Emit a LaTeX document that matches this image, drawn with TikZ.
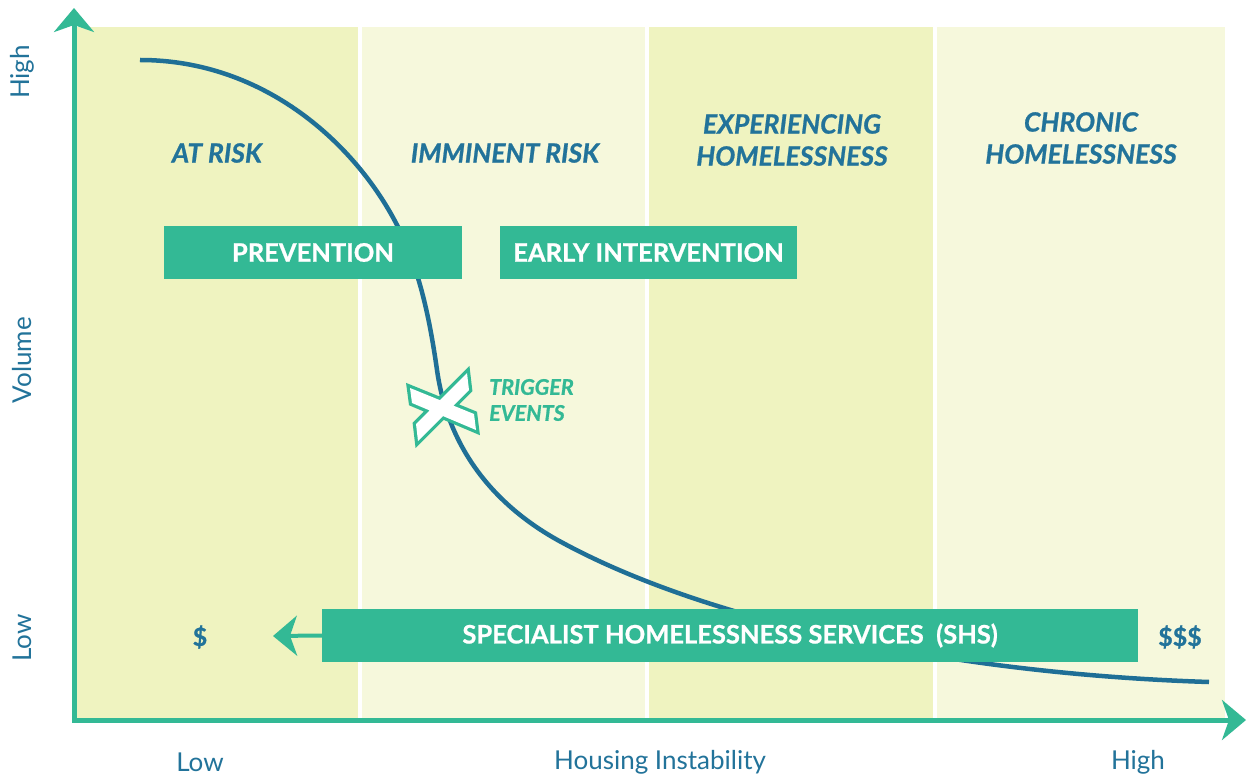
\documentclass[tikz,border=0pt]{standalone}
\usepackage{fontspec}
\setmainfont{Lato}[BoldFeatures={FakeBold=0.8},BoldItalicFeatures={FakeBold=0.8}]
\usetikzlibrary{arrows.meta}
\definecolor{bandA}{HTML}{EFF3C0}
\definecolor{bandB}{HTML}{F6F8DC}
\definecolor{grn}{HTML}{33B995}
\definecolor{blu}{HTML}{22739A}
\definecolor{crv}{HTML}{1F6F96}
\tikzset{
  bigtip/.style={-{Stealth[length=24pt,width=40pt,inset=7pt]}},
  axisline/.style={grn, line width=5pt},
  title/.style={text=blu, font=\fontsize{26.5}{32}\selectfont\bfseries\itshape, align=center, inner sep=0pt},
  boxnode/.style={fill=grn, text=white, font=\fontsize{25.5}{28}\selectfont\bfseries, minimum height=53pt, inner sep=0pt},
  axislbl/.style={text=blu, font=\fontsize{26}{28}\selectfont, inner sep=0pt},
  money/.style={text=blu, font=\fontsize{25}{28}\selectfont\bfseries, inner sep=0pt},
  trig/.style={text=grn, font=\fontsize{21.5}{26}\selectfont\bfseries\itshape, align=left, inner sep=0pt}
}
\begin{document}
\begin{tikzpicture}[x=1pt,y=-1pt]
\useasboundingbox (0,0) rectangle (1249,775);
\fill[white] (0,0) rectangle (1249,775);
% bands
\fill[bandA] (76,27) rectangle (358,720);
\fill[bandB] (362,27) rectangle (645,720);
\fill[bandA] (649,27) rectangle (933,720);
\fill[bandB] (937,27) rectangle (1225,720);
% band titles
\node[title] (atrisk) at (217,153) {AT RISK};
\node[title] (imminent) at (505,153) {IMMINENT RISK};
\node[title] (exper) at (792,140) {EXPERIENCING\\HOMELESSNESS};
\node[title] (chronic) at (1081,138) {CHRONIC\\HOMELESSNESS};
% curve
\coordinate (c0) at (140,60);
\coordinate (c1) at (397,225);
\coordinate (c2) at (437,370);
\coordinate (c3) at (563,543);
\coordinate (c4) at (1209,682);
\draw[crv, line width=4.5pt, line cap=butt]
  (c0) .. controls (265,60) and (356,145) .. (c1)
       .. controls (420,270) and (430,321) .. (c2)
       .. controls (449,455) and (501,510) .. (c3)
       .. controls (713,624) and (959,674) .. (c4);
% boxes
\node[boxnode, minimum width=298pt] (prev) at (313,252.5) {PREVENTION};
\node[boxnode, minimum width=297pt] (early) at (648.5,252.5) {EARLY INTERVENTION};
\node[boxnode, minimum width=816pt] (shs) at (730,635.5) {SPECIALIST HOMELESSNESS SERVICES\ \ (SHS)};
\coordinate (shstip) at (273,636);
\draw[grn, line width=4pt, bigtip] (shs.west) -- (shstip);
\node[money] (d1) at (200,637) {\$};
\node[money] (d3) at (1180,637) {\$\$\$};
% trigger X
\draw[grn, line width=6.5pt, line join=miter]
  (410,388) -- (474,414) -- (476,430) -- (412,403) -- cycle
  (467,373) -- (469,390) -- (418,441) -- (416,424) -- cycle;
\fill[white, nonzero rule]
  (410,388) -- (474,414) -- (476,430) -- (412,403) -- cycle
  (467,373) -- (469,390) -- (418,441) -- (416,424) -- cycle;
\node[trig, anchor=west] (trigger) at (489,400) {TRIGGER\\EVENTS};
% axes
\coordinate (orig) at (74,722);
\coordinate (ytip) at (74,8);
\coordinate (xorig) at (72,720);
\coordinate (xtip) at (1246,720);
\draw[axisline, bigtip] (orig) -- (ytip);
\draw[axisline, bigtip] (xorig) -- (xtip);
% axis labels
\node[axislbl, rotate=90] (yhigh) at (22,72) {High};
\node[axislbl, rotate=90] (yvol) at (22,360) {Volume};
\node[axislbl, rotate=90] (ylow) at (22,638) {Low};
\node[axislbl] (xlow) at (200,762) {Low};
\node[axislbl] (xmid) at (660,762) {Housing Instability};
\node[axislbl] (xhigh) at (1138,762) {High};
\end{tikzpicture}
\end{document}
